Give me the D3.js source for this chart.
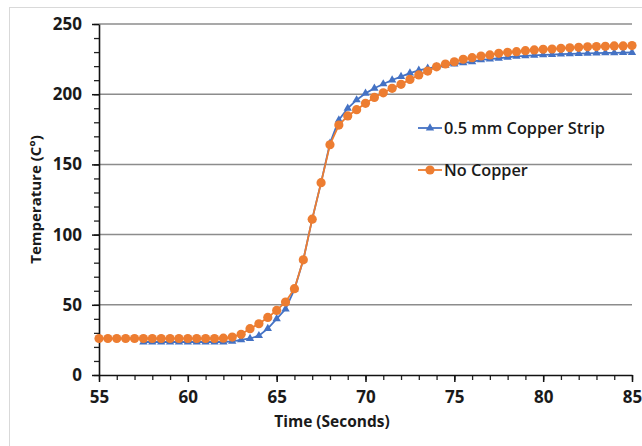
<!DOCTYPE html>
<html>
<head>
<meta charset="utf-8">
<script src="https://cdn.jsdelivr.net/npm/d3@7"></script>
<style>
  body { margin: 0; background: #fff; }
  svg text { font-family: "Open Sans", "DejaVu Sans", sans-serif; fill: #1a1a1a; }
</style>
</head>
<body>
<div id="chart"></div>
<script>
// time (s) for the No Copper run, every 0.5 s
const timeNoCopper = [55, 55.5, 56, 56.5, 57, 57.5, 58, 58.5, 59, 59.5, 60, 60.5, 61, 61.5, 62, 62.5,
  63, 63.5, 64, 64.5, 65, 65.5, 66, 66.5, 67, 67.5, 68, 68.5, 69, 69.5, 70, 70.5, 71, 71.5, 72, 72.5,
  73, 73.5, 74, 74.5, 75, 75.5, 76, 76.5, 77, 77.5, 78, 78.5, 79, 79.5, 80, 80.5, 81, 81.5, 82, 82.5,
  83, 83.5, 84, 84.5, 85];
const tempNoCopper = [26, 26, 26, 26, 26, 26, 26, 26, 26, 26, 26, 26, 26, 26, 26.2, 27,
  29, 33, 36.5, 41, 46, 52, 61.5, 82, 111, 137, 164, 178, 184.5, 189, 193.5, 197.7, 201, 204.2, 207, 210.5,
  213.7, 216.5, 219.5, 221.5, 223.1, 224.9, 226, 227.2, 228, 229.1, 229.8, 230.3, 231, 231.5, 232, 232.2, 232.7, 233.1, 233.4, 233.8,
  233.9, 234.1, 234.4, 234.4, 234.6];

// time (s) for the 0.5 mm copper strip run
const timeCopper = [57.5, 58, 58.5, 59, 59.5, 60, 60.5, 61, 61.5, 62, 62.5,
  63, 63.5, 64, 64.5, 65, 65.5, 66, 66.5, 67, 67.5, 68, 68.5, 69, 69.5, 70, 70.5, 71, 71.5, 72, 72.5,
  73, 73.5, 74, 74.5, 75, 75.5, 76, 76.5, 77, 77.5, 78, 78.5, 79, 79.5, 80, 80.5, 81, 81.5, 82, 82.5,
  83, 83.5, 84, 84.5, 85];
const tempCopper = [23.5, 23.5, 23.5, 23.5, 23.5, 23.5, 23.5, 23.5, 23.5, 23.5, 24,
  25, 26, 28, 33, 40, 47, 61, 82, 111, 137, 165, 181.6, 190, 195.9, 200.6, 204.2, 207.3, 210.1, 212.5, 215,
  217, 218.4, 219.5, 220.5, 221.5, 222.3, 223.1, 224.4, 225, 225.6, 226.3, 227, 227.3, 227.6, 228, 228.2, 228.5, 228.7, 228.9, 229.1,
  229.2, 229.4, 229.5, 229.6, 229.7];

const xTicks = [55, 60, 65, 70, 75, 80, 85];
const yTicks = [0, 50, 100, 150, 200, 250];

const W = 642, H = 446;
const margin = { top: 24, right: 10, bottom: 71, left: 99 };

let svg = d3.select("#chart").append("svg")
  .attr("width", W)
  .attr("height", H);

// outer chart border
svg.append("rect")
  .attr("x", 9.5).attr("y", 7.5)
  .attr("width", 660).attr("height", 460)
  .attr("fill", "#fff")
  .attr("stroke", "#d9d9d9");

let x = d3.scaleLinear().domain([55, 85]).range([margin.left, W - margin.right]);
let y = d3.scaleLinear().domain([0, 250]).range([H - margin.bottom, margin.top]);

// gridlines
svg.append("g")
  .selectAll("line")
  .data(yTicks.filter(d => d > 0))
  .enter()
  .append("line")
  .attr("x1", x(55)).attr("x2", x(85))
  .attr("y1", d => y(d)).attr("y2", d => y(d))
  .attr("stroke", "#8c8c8c")
  .attr("stroke-width", 1.5);

// minor ticks
let yMinor = svg.append("g")
  .attr("transform", `translate(${x(55)},0)`)
  .call(d3.axisLeft(y).tickValues(d3.range(0, 251, 10)).tickSize(5).tickFormat(""));
yMinor.select(".domain").remove();
yMinor.selectAll("line").attr("stroke", "#222").attr("stroke-width", 1.3);

let xMinor = svg.append("g")
  .attr("transform", `translate(0,${y(0)})`)
  .call(d3.axisBottom(x).tickValues(d3.range(55, 86, 1)).tickSize(5).tickFormat(""));
xMinor.select(".domain").remove();
xMinor.selectAll("line").attr("stroke", "#222").attr("stroke-width", 1.3);

// major axes
let yAxis = svg.append("g")
  .attr("transform", `translate(${x(55)},0)`)
  .call(d3.axisLeft(y).tickValues(yTicks).tickSize(7).tickSizeOuter(0).tickPadding(10));
yAxis.select(".domain").attr("stroke", "#111").attr("stroke-width", 1.6);
yAxis.selectAll("line").attr("stroke", "#111").attr("stroke-width", 1.5);
yAxis.selectAll("text")
  .attr("font-size", "17px")
  .attr("font-weight", "bold")
  .style("font-family", '"Open Sans", sans-serif')
  .attr("fill", "#1a1a1a");

let xAxis = svg.append("g")
  .attr("transform", `translate(0,${y(0)})`)
  .call(d3.axisBottom(x).tickValues(xTicks).tickSize(7).tickSizeOuter(0).tickPadding(9));
xAxis.select(".domain").attr("stroke", "#111").attr("stroke-width", 1.6);
xAxis.selectAll("line").attr("stroke", "#111").attr("stroke-width", 1.5);
xAxis.selectAll("text")
  .attr("font-size", "17px")
  .attr("font-weight", "bold")
  .style("font-family", '"Open Sans", sans-serif')
  .attr("fill", "#1a1a1a");

// axis titles
svg.append("text")
  .attr("x", 332)
  .attr("y", 427)
  .attr("text-anchor", "middle")
  .attr("font-size", "15.5px")
  .attr("font-weight", "bold")
  .text("Time (Seconds)");

svg.append("text")
  .attr("transform", `translate(40.5,${y(125)}) rotate(-90)`)
  .attr("text-anchor", "middle")
  .attr("font-size", "15px")
  .attr("font-weight", "bold")
  .text("Temperature (C°)");

const blue = "#4472c4", orange = "#ed7d31";

let copper = timeCopper.map((t, i) => ({ t: t, v: tempCopper[i] }));
let noCopper = timeNoCopper.map((t, i) => ({ t: t, v: tempNoCopper[i] }));

let line = d3.line().x(d => x(d.t)).y(d => y(d.v));
let tri = d3.symbol().type(d3.symbolTriangle).size(30);

// copper strip series
svg.append("path")
  .datum(copper)
  .attr("fill", "none")
  .attr("stroke", blue)
  .attr("stroke-width", 1.8)
  .attr("d", line);
svg.append("g")
  .selectAll("path")
  .data(copper)
  .enter()
  .append("path")
  .attr("transform", d => `translate(${x(d.t)},${y(d.v)})`)
  .attr("d", tri)
  .attr("fill", blue);

// no copper series
svg.append("path")
  .datum(noCopper)
  .attr("fill", "none")
  .attr("stroke", orange)
  .attr("stroke-width", 1.8)
  .attr("d", line);
svg.append("g")
  .selectAll("circle")
  .data(noCopper)
  .enter()
  .append("circle")
  .attr("cx", d => x(d.t))
  .attr("cy", d => y(d.v))
  .attr("r", 4.6)
  .attr("fill", orange);

// legend
const legend = [
  { name: "0.5 mm Copper Strip", color: blue, mark: "tri", ly: 128 },
  { name: "No Copper", color: orange, mark: "circle", ly: 170 }
];
let lg = svg.append("g")
  .selectAll("g")
  .data(legend)
  .enter()
  .append("g")
  .attr("transform", d => `translate(418,${d.ly})`);
lg.append("line")
  .attr("x1", 0).attr("x2", 24)
  .attr("stroke", d => d.color)
  .attr("stroke-width", 1.8);
lg.filter(d => d.mark == "tri").append("path")
  .attr("transform", "translate(12,0)")
  .attr("d", tri)
  .attr("fill", blue);
lg.filter(d => d.mark == "circle").append("circle")
  .attr("cx", 12)
  .attr("r", 4.6)
  .attr("fill", orange);
lg.append("text")
  .attr("x", 26)
  .attr("dy", "0.35em")
  .attr("font-size", "16.3px")
  .attr("font-weight", "600")
  .text(d => d.name);
</script>
</body>
</html>
